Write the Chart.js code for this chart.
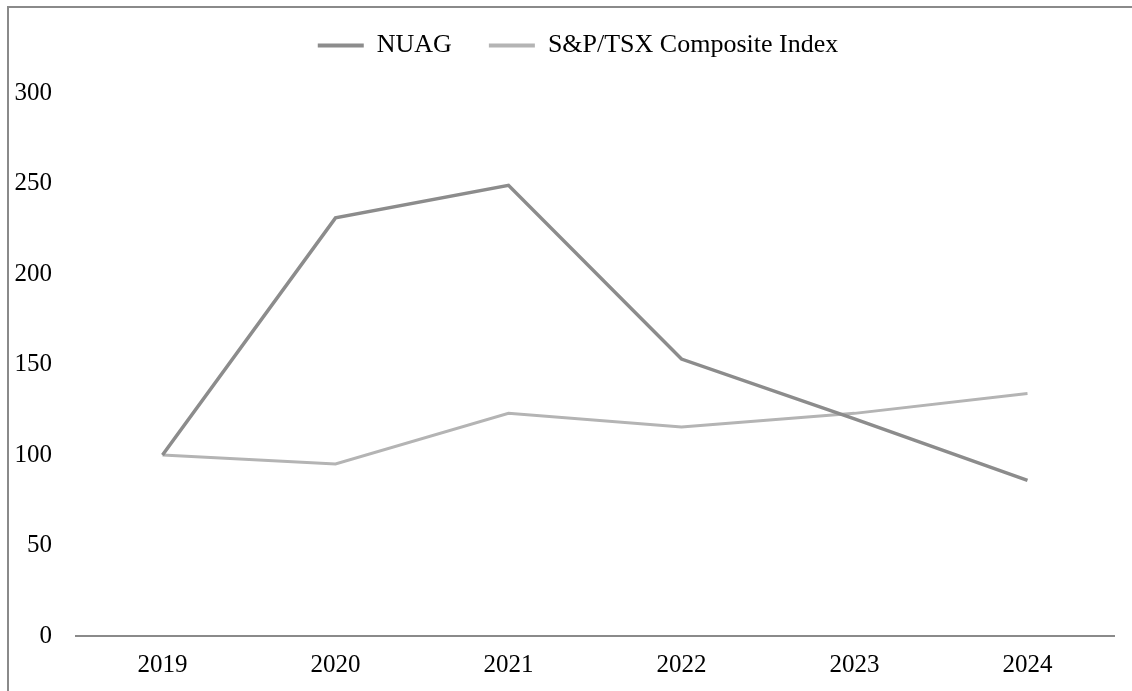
<!DOCTYPE html>
<html>
<head>
<meta charset="utf-8">
<script src="https://cdn.jsdelivr.net/npm/chart.js@4"></script>
<style>
  html, body { margin: 0; padding: 0; background: #fff; }
  #wrap { position: relative; width: 1132px; height: 691px; }
  #frame { position: absolute; left: 7px; top: 6px; right: 0; bottom: 0;
           border-left: 2px solid #8a8a8a; border-top: 2px solid #8a8a8a; pointer-events: none; }
  canvas { position: absolute; left: 0; top: 0; }
</style>
</head>
<body>
<div id="wrap">
  <canvas id="c" width="1132" height="691"></canvas>
  <div id="frame"></div>
</div>
<script>
const years = ['2019', '2020', '2021', '2022', '2023', '2024'];
const nuag = [100, 231, 249, 153, 120, 86];
const sptsx = [100, 95, 123, 115.5, 123, 134];
const yTickStep = 50;
const yMin = 0, yMax = 300;

const FONT = "'Liberation Serif', 'Times New Roman', serif";

const legendFit = {
  id: 'legendFit',
  beforeInit(chart) {
    const lg = chart.legend;
    if (!lg) return;
    const orig = lg.fit;
    lg.fit = function () { orig.call(this); this.height = 97.5; };
  },
  afterLayout(chart) {
    if (chart.legend) chart.legend.left += 42;
  }
};

new Chart(document.getElementById('c'), {
  type: 'line',
  data: {
    labels: years,
    datasets: [
      { label: 'NUAG', data: nuag, borderColor: '#8c8c8c', backgroundColor: '#8c8c8c',
        borderWidth: 3.5, pointRadius: 0, tension: 0 },
      { label: 'S&P/TSX Composite Index', data: sptsx, borderColor: '#b4b4b4', backgroundColor: '#b4b4b4',
        borderWidth: 3, pointRadius: 0, tension: 0 }
    ]
  },
  plugins: [legendFit],
  options: {
    responsive: false,
    animation: false,
    layout: { padding: { left: 0, right: 18, top: -4.5, bottom: 0 } },
    plugins: {
      tooltip: { enabled: false },
      legend: {
        position: 'top',
        labels: {
          font: { family: FONT, size: 26 },
          color: '#000',
          boxWidth: 46,
          boxHeight: 4,
          padding: 37,
          generateLabels(chart) {
            return chart.data.datasets.map((ds, i) => ({
              text: ds.label,
              fillStyle: ds.borderColor,
              strokeStyle: ds.borderColor,
              lineWidth: 0,
              hidden: false,
              datasetIndex: i,
              fontColor: '#000'
            }));
          }
        }
      }
    },
    scales: {
      x: {
        offset: true,
        grid: { display: false, drawTicks: false },
        border: { display: true, color: '#8a8a8a', width: 2 },
        ticks: { font: { family: FONT, size: 25 }, color: '#000', padding: 14, maxRotation: 0 },
        afterFit(scale) { scale.height = 55; }
      },
      y: {
        min: yMin, max: yMax,
        grid: { display: false, drawTicks: false },
        border: { display: false },
        ticks: { stepSize: yTickStep, font: { family: FONT, size: 25 }, color: '#000', padding: 24 },
        afterFit(scale) { scale.width = 76; }
      }
    }
  }
});
</script>
</body>
</html>
